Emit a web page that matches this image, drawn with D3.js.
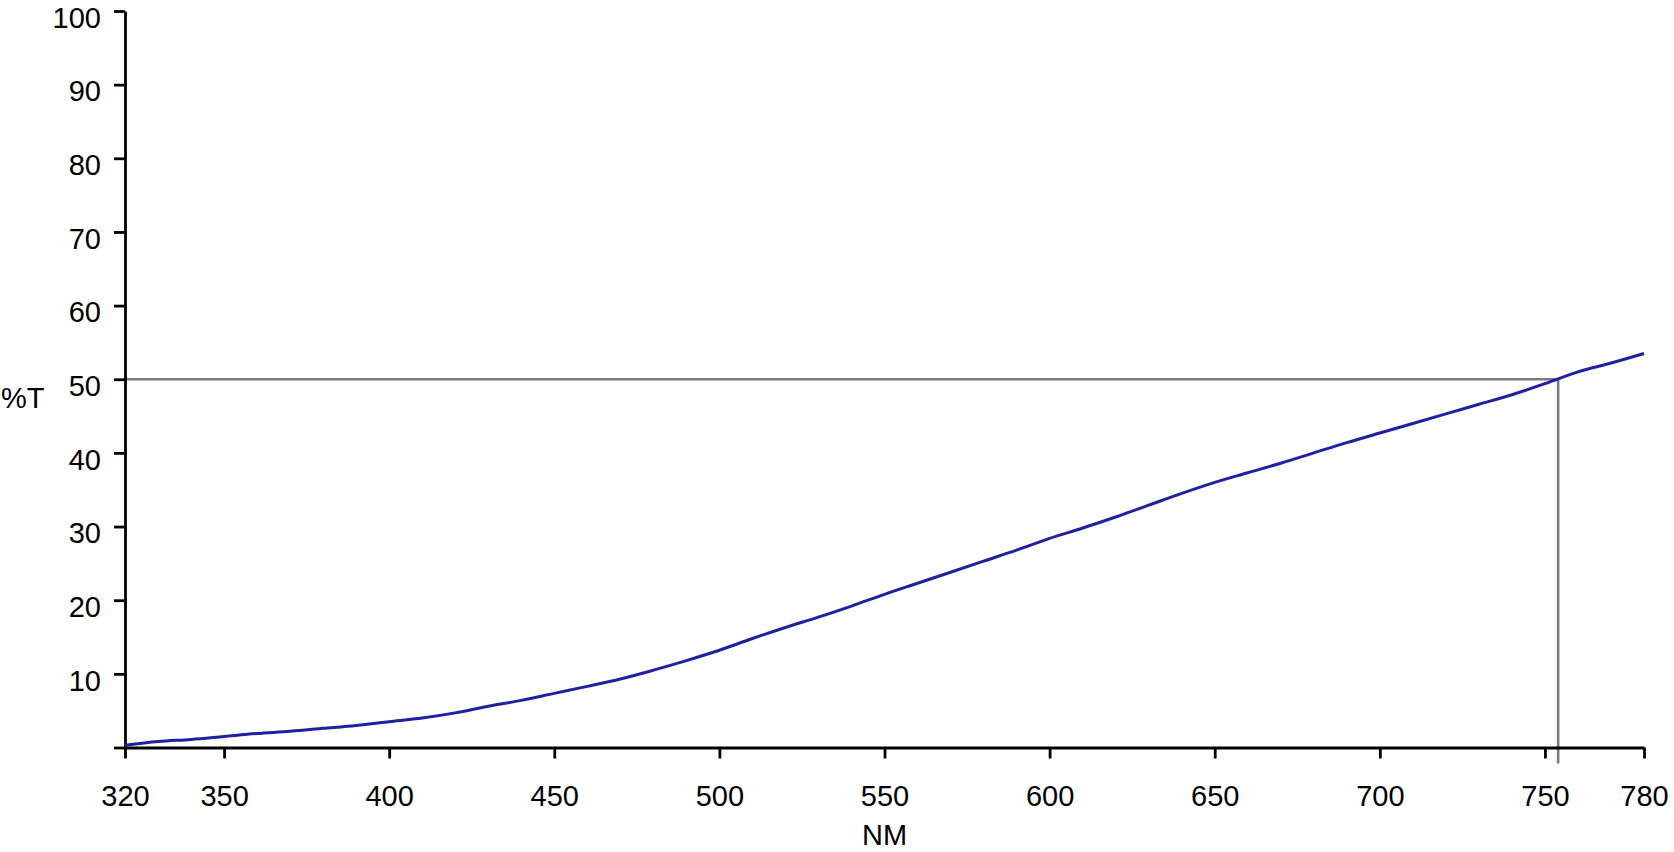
<!DOCTYPE html>
<html>
<head>
<meta charset="utf-8">
<script src="https://cdn.jsdelivr.net/npm/d3@7"></script>
<style>
  html, body { margin: 0; padding: 0; background: #fff; }
  text { font-family: "Liberation Sans", Arial, sans-serif; fill: #000; }
</style>
</head>
<body>
<div id="chart"></div>
<script>
// --- data ---
const wavelengths = [320, 330, 340, 350, 360, 370, 380, 390, 400, 410, 420, 430, 440, 450,
  460, 470, 480, 490, 500, 510, 520, 530, 540, 550, 560, 570, 580, 590, 600, 610, 620,
  630, 640, 650, 660, 670, 680, 690, 700, 710, 720, 730, 740, 750, 760, 770, 780];
const transmission = [0.3, 0.8, 1.1, 1.5, 1.9, 2.2, 2.6, 3.0, 3.5, 4.0, 4.7, 5.6, 6.4, 7.35,
  8.3, 9.3, 10.5, 11.8, 13.2, 14.8, 16.3, 17.7, 19.2, 20.8, 22.3, 23.8, 25.3, 26.8, 28.4,
  29.8, 31.3, 32.9, 34.5, 36.0, 37.3, 38.6, 40.0, 41.4, 42.7, 44.0, 45.3, 46.6, 47.9, 49.4,
  51.0, 52.2, 53.5];
const xTicks = [320, 350, 400, 450, 500, 550, 600, 650, 700, 750, 780];
const yTicks = [0, 10, 20, 30, 40, 50, 60, 70, 80, 90, 100];
const refLevel = 50;       // %T marker
const refWavelength = 754; // where the curve crosses 50 %T

const W = 1674, H = 852;
const plotLeft = 125, plotRight = 1644, plotTop = 11, plotBottom = 747.5;
const fontSize = 29;

const x = d3.scaleLinear().domain([320, 780]).range([plotLeft, plotRight]);
const y = d3.scaleLinear().domain([0, 100]).range([plotBottom, plotTop]);

const svg = d3.select('#chart').append('svg')
  .attr('width', W)
  .attr('height', H)
  .attr('viewBox', `0 0 ${W} ${H}`);

svg.append('rect').attr('width', W).attr('height', H).attr('fill', '#fff');

const points = wavelengths.map((w, i) => [w, transmission[i]]);

// reference lines at 50 %T
svg.append('line')
  .attr('x1', x(320)).attr('x2', x(refWavelength))
  .attr('y1', y(refLevel)).attr('y2', y(refLevel))
  .attr('stroke', '#7c7c7c').attr('stroke-width', 2.6);
svg.append('line')
  .attr('x1', x(refWavelength)).attr('x2', x(refWavelength))
  .attr('y1', y(refLevel)).attr('y2', plotBottom + 16)
  .attr('stroke', '#7c7c7c').attr('stroke-width', 2.6);

// axes
const yAxis = d3.axisLeft(y).tickValues(yTicks).tickSize(11).tickSizeOuter(0)
  .tickFormat(d => d === 0 ? '' : d);
const xAxis = d3.axisBottom(x).tickValues(xTicks).tickSize(11).tickSizeOuter(0)
  .tickFormat(d3.format('d'));

const gy = svg.append('g').attr('transform', `translate(${plotLeft},0)`).call(yAxis);
const gx = svg.append('g').attr('transform', `translate(0,${plotBottom})`).call(xAxis);

[gx, gy].forEach(g => {
  g.select('.domain').attr('stroke', '#000').attr('stroke-width', 2.8);
  g.selectAll('.tick line').attr('stroke', '#000').attr('stroke-width', 2.8);
  g.selectAll('.tick text')
    .attr('font-size', fontSize)
    .attr('font-family', '"Liberation Sans", Arial, sans-serif')
    .attr('fill', '#000');
});
gy.selectAll('.tick text').attr('x', -24).attr('dy', '0.56em');
gx.selectAll('.tick text').attr('y', 38).attr('dy', '0.71em');

// curve
const line = d3.line()
  .x(d => x(d[0]))
  .y(d => y(d[1]))
  .curve(d3.curveMonotoneX);

svg.append('path')
  .datum(points)
  .attr('d', line)
  .attr('fill', 'none')
  .attr('stroke', '#2020a4')
  .attr('stroke-width', 3);

// axis titles
svg.append('text')
  .attr('x', 1)
  .attr('y', 408)
  .attr('font-size', fontSize)
  .text('%T');

svg.append('text')
  .attr('x', (plotLeft + plotRight) / 2)
  .attr('y', 845)
  .attr('text-anchor', 'middle')
  .attr('font-size', fontSize)
  .text('NM');
</script>
</body>
</html>
